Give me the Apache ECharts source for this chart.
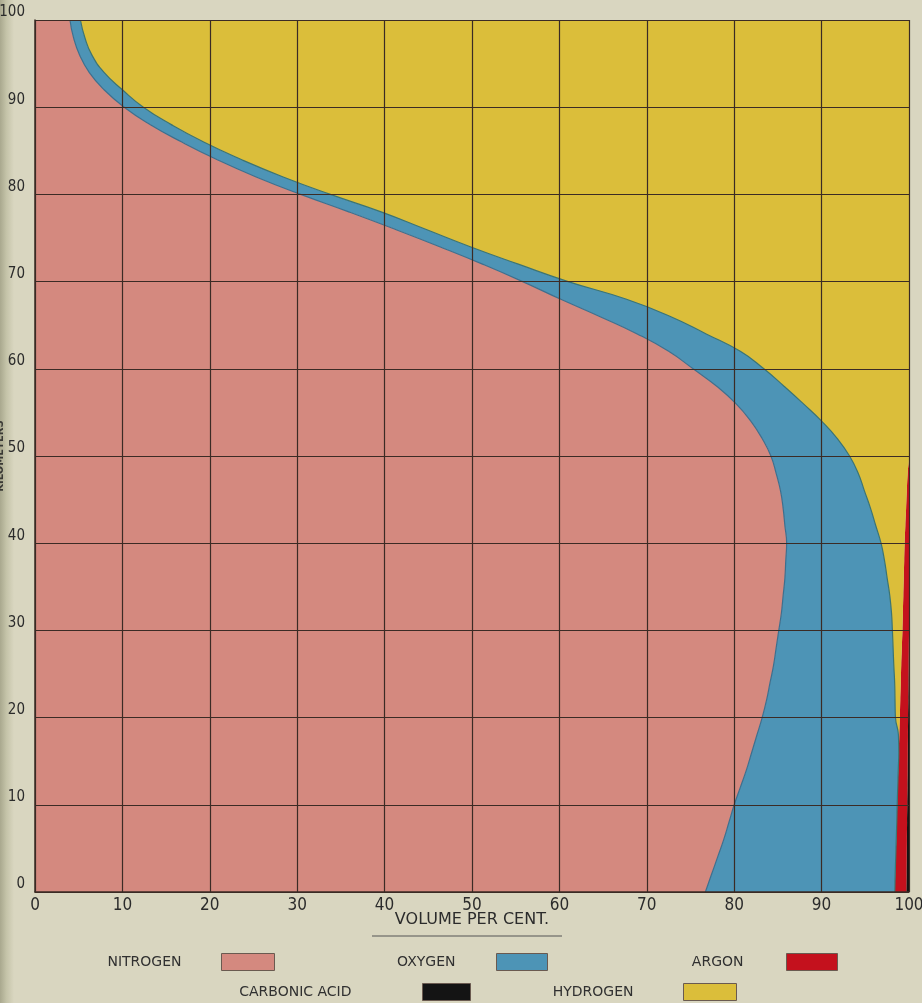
<!DOCTYPE html>
<html><head><meta charset="utf-8">
<script src="https://cdn.jsdelivr.net/npm/echarts@6/dist/echarts.min.js"></script>
<style>html,body{margin:0;padding:0;background:#d9d6c0}#c{width:922px;height:1003px}</style>
</head><body><div id="c"></div>
<script>
// Altitude in kilometres (category axis, bottom to top)
const altitudes = ['0','2','4','6','8','10','12','14','16','18','20','22','24','26','28','30','32','34','36','38','40','42','44','46','48','50','52','54','56','58','60','62','64','66','68','70','72','74','76','78','80','82','84','86','88','90','92','94','96','98','100'];
// Volume per cent of each gas at each altitude
const nitrogen = [76.7,77.4,78.1,78.8,79.4,80.0,80.7,81.4,82.0,82.6,83.2,83.7,84.1,84.5,84.8,85.1,85.4,85.6,85.8,85.9,86.0,85.8,85.6,85.3,84.8,84.2,83.2,81.9,80.2,78.0,75.3,72.5,68.9,64.6,60.1,55.8,51.2,46.3,41.2,35.9,30.4,25.3,20.8,16.8,13.2,10.2,7.9,6.2,5.1,4.4,4.0];
const oxygen = [21.67,21.02,20.38,19.74,19.20,18.65,18.01,17.37,16.83,16.19,15.25,14.70,14.26,13.76,13.38,13.00,12.60,12.20,11.70,11.30,10.80,10.40,10.00,9.60,9.40,9.00,8.60,8.10,7.70,7.70,8.10,8.20,7.90,8.10,7.50,5.20,4.10,3.50,3.50,3.70,3.40,3.10,2.80,2.50,2.40,2.20,2.10,1.70,1.40,1.30,1.20];
const hydrogen = [0,0,0,0,0,0,0,0,0,0.10,0.50,0.60,0.70,0.85,1.00,1.15,1.30,1.55,1.90,2.25,2.70,3.38,4.07,4.85,5.65,6.80,8.20,10.00,12.10,14.30,16.60,19.30,23.20,27.30,32.40,39.00,44.70,50.20,55.30,60.40,66.20,71.60,76.40,80.70,84.40,87.60,90.00,92.10,93.50,94.30,94.80];
const argon = [1.33,1.30,1.26,1.22,1.18,1.15,1.11,1.07,1.03,0.99,0.95,0.92,0.88,0.85,0.80,0.75,0.70,0.65,0.60,0.55,0.50,0.42,0.33,0.25,0.15,0,0,0,0,0,0,0,0,0,0,0,0,0,0,0,0,0,0,0,0,0,0,0,0,0,0];
const carbonicAcid = [0.30,0.28,0.26,0.24,0.22,0.20,0.18,0.16,0.14,0.12,0.10,0.08,0.06,0.04,0.02,0,0,0,0,0,0,0,0,0,0,0,0,0,0,0,0,0,0,0,0,0,0,0,0,0,0,0,0,0,0,0,0,0,0,0,0];

const FONT = "'Liberation Sans Narrow','DejaVu Sans Condensed','Liberation Sans',sans-serif";
const LFONT = "'DejaVu Sans','Liberation Sans',sans-serif";
const GRIDC = '#3b2b25';
const COLORS = {n:'#d4897f', o:'#4d94b6', h:'#dbbe3a', a:'#c4111d', c:'#141414'};

const chart = echarts.init(document.getElementById('c'), null, {renderer:'canvas'});
const common = {type:'line', stack:'total', symbol:'none', showSymbol:false, smooth:0.5, emphasis:{disabled:true}, silent:true};

function legendFor(name, right, top, w, pad) {
  return {data:[{name:name, icon:'rect'}], right:right, top:top, align:'right', padding:0,
    itemWidth:w, itemHeight:17, selectedMode:false,
    itemStyle:{borderColor:'#6a5a50', borderWidth:1},
    textStyle:{fontFamily:LFONT, fontSize:14, color:'#303030', padding:[0,pad,0,0]}};
}

chart.setOption({
  backgroundColor:'#d9d6c0',
  animation:false,
  grid:{left:35, right:13, top:20, bottom:111, containLabel:false, outerBoundsMode:'none'},
  xAxis:{type:'value', min:0, max:100, interval:10, z:10,
    axisLine:{show:true, lineStyle:{color:GRIDC, width:1.5}}, axisTick:{show:false},
    axisLabel:{margin:5, fontSize:17, color:'#2b2b2b', fontFamily:FONT},
    splitLine:{show:true, lineStyle:{color:GRIDC, width:1.2}},
    name:'VOLUME PER CENT.', nameLocation:'middle', nameGap:20, nameMoveOverlap:false,
    nameTextStyle:{fontSize:16, color:'#2b2b2b', fontFamily:LFONT}},
  yAxis:{type:'category', data:altitudes, boundaryGap:false, z:10,
    axisLine:{show:true, lineStyle:{color:GRIDC, width:1.5}}, axisTick:{show:false},
    axisLabel:{interval:4, margin:10, verticalAlign:'bottom', fontSize:15, color:'#2b2b2b', fontFamily:FONT},
    splitLine:{show:true, interval:4, lineStyle:{color:GRIDC, width:1.2}},
    name:'KILOMETERS', nameLocation:'middle', nameGap:30, nameRotate:90, nameMoveOverlap:false,
    nameTextStyle:{fontSize:10, fontWeight:'bold', color:'#3a3a35', fontFamily:LFONT}},
  legend:[
    legendFor('NITROGEN', 647, 953, 53, 35),
    legendFor('OXYGEN', 374, 953, 51, 36),
    legendFor('ARGON', 84, 953, 51, 38),
    legendFor('CARBONIC ACID', 451, 983, 48, 66),
    legendFor('HYDROGEN', 185, 983, 53, 45)
  ],
  graphic:[
    {type:'rect', left:0, top:0, z:-10, shape:{width:14, height:1003},
     style:{fill:new echarts.graphic.LinearGradient(0,0,1,0,[{offset:0,color:'#a9a88e'},{offset:0.45,color:'#c4c3a8'},{offset:1,color:'#d9d6c0'}])}},
    {type:'line', z:5, shape:{x1:372, y1:936, x2:562, y2:936}, style:{stroke:'#555', lineWidth:1}}
  ],
  series:[
    Object.assign({}, common, {name:'NITROGEN', data:nitrogen, z:6, color:COLORS.n,
      lineStyle:{color:'#3e6f8e', width:1.2}, areaStyle:{color:COLORS.n, opacity:1}, itemStyle:{color:COLORS.n}}),
    Object.assign({}, common, {name:'OXYGEN', data:oxygen, z:5, color:COLORS.o,
      lineStyle:{color:'#3c7472', width:1.2}, areaStyle:{color:COLORS.o, opacity:1}, itemStyle:{color:COLORS.o}}),
    Object.assign({}, common, {name:'HYDROGEN', data:hydrogen, z:4, color:COLORS.h,
      lineStyle:{width:0}, areaStyle:{color:COLORS.h, opacity:1}, itemStyle:{color:COLORS.h}}),
    Object.assign({}, common, {name:'ARGON', data:argon, z:3, color:COLORS.a,
      lineStyle:{width:0}, areaStyle:{color:COLORS.a, opacity:1}, itemStyle:{color:COLORS.a}}),
    Object.assign({}, common, {name:'CARBONIC ACID', data:carbonicAcid, z:2, color:COLORS.c,
      lineStyle:{width:0}, areaStyle:{color:COLORS.c, opacity:1}, itemStyle:{color:COLORS.c}})
  ]
});
</script></body></html>
